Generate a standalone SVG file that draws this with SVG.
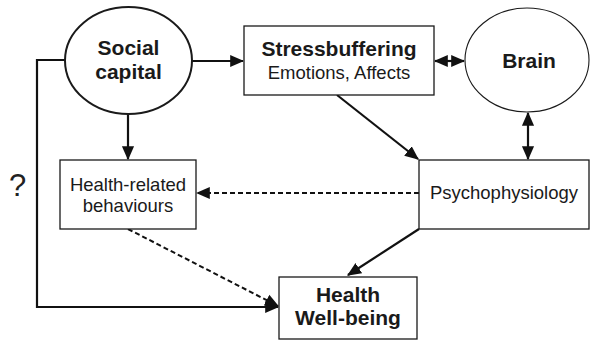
<svg xmlns="http://www.w3.org/2000/svg" width="591" height="340" viewBox="0 0 591 340">
  <style>
    .box { fill: #fff; stroke: #1a1a1a; stroke-width: 1.3; }
    .lbl { font-family: "Liberation Sans", Arial, sans-serif; fill: #1a1a1a; text-anchor: middle; }
    .b { font-weight: bold; font-size: 21px; }
    .r { font-size: 18.5px; }
    .edge { fill: none; stroke: #111; stroke-width: 2.2; }
    .dash { fill: none; stroke: #111; stroke-width: 2; stroke-dasharray: 5 3; }
  </style>
  <defs>
    <marker id="ah" markerUnits="userSpaceOnUse" markerWidth="14" markerHeight="14" viewBox="0 0 12 12" refX="11" refY="6" orient="auto-start-reverse">
      <path d="M0,0.8 L12,6 L0,11.2 Z" fill="#111"/>
    </marker>
  </defs>

  <!-- connectors -->
  <g id="connectors">
    <line class="edge" x1="192" y1="61" x2="243" y2="61" marker-end="url(#ah)"/>
    <line class="edge" x1="435" y1="61" x2="464" y2="61" marker-start="url(#ah)" marker-end="url(#ah)"/>
    <line class="edge" x1="528" y1="113" x2="528" y2="159" marker-start="url(#ah)" marker-end="url(#ah)"/>
    <line class="edge" x1="128" y1="114" x2="128" y2="159" marker-end="url(#ah)"/>
    <line class="edge" x1="337" y1="95" x2="418" y2="159" marker-end="url(#ah)"/>
    <line class="edge" x1="419" y1="229" x2="348" y2="275" marker-end="url(#ah)"/>
    <polyline class="edge" points="66,60 37,60 37,307 278,307" marker-end="url(#ah)"/>
    <line class="dash" x1="419" y1="193" x2="197" y2="193" marker-end="url(#ah)"/>
    <line class="dash" x1="128" y1="229" x2="278" y2="306" marker-end="url(#ah)"/>
  </g>

  <g id="social-capital">
    <ellipse cx="128.5" cy="60.5" rx="63.5" ry="53.5" fill="#fff" stroke="#1a1a1a" stroke-width="2"/>
    <text class="lbl b" x="128.5" y="55">Social</text>
    <text class="lbl b" x="128.5" y="79">capital</text>
  </g>

  <g id="stressbuffering">
    <rect class="box" x="244" y="26" width="190" height="69"/>
    <text class="lbl b" x="339" y="56">Stressbuffering</text>
    <text class="lbl r" x="339" y="79">Emotions, Affects</text>
  </g>

  <g id="brain">
    <ellipse cx="527" cy="60" rx="62" ry="52" fill="#fff" stroke="#1a1a1a" stroke-width="1.1"/>
    <text class="lbl b" x="529" y="68">Brain</text>
  </g>

  <g id="health-behaviours">
    <rect class="box" x="60" y="160" width="136" height="69"/>
    <text class="lbl r" x="128" y="191">Health-related</text>
    <text class="lbl r" x="128" y="212">behaviours</text>
  </g>

  <g id="psychophysiology">
    <rect class="box" x="419" y="160" width="170" height="69"/>
    <text class="lbl r" x="504" y="199">Psychophysiology</text>
  </g>

  <g id="health-wellbeing">
    <rect class="box" x="279" y="277" width="138" height="62"/>
    <text class="lbl b" x="348" y="302">Health</text>
    <text class="lbl b" x="348" y="325">Well-being</text>
  </g>

  <text x="17.5" y="196" font-family="Liberation Sans, Arial, sans-serif" font-size="31" fill="#222" text-anchor="middle">?</text>
</svg>
